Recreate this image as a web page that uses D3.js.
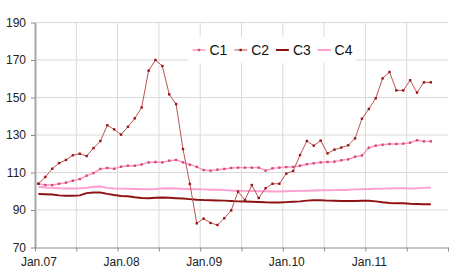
<!DOCTYPE html>
<html>
<head>
<meta charset="utf-8">
<script src="https://cdn.jsdelivr.net/npm/d3@7"></script>
<style>
  body { margin: 0; background: #fff; }
  svg { display: block; font-family: "Liberation Sans", Arial, sans-serif; }
</style>
</head>
<body>
<script>
// monthly values, Jan.07 .. Oct.11 (axis runs to Dec.11)
let c1 = [104.0, 103.3, 103.3, 104.0, 104.6, 105.6, 106.5, 108.3, 109.7, 111.9, 112.4, 112.0,
          113.1, 113.6, 113.6, 114.3, 115.4, 115.6, 115.4, 116.3, 116.7, 115.4, 114.2, 113.0,
          111.3, 111.0, 111.5, 111.9, 112.4, 112.6, 112.6, 112.6, 112.6, 111.0, 112.2, 112.6,
          112.9, 113.0, 113.6, 114.4, 114.9, 115.4, 115.6, 115.8, 116.5, 117.0, 118.4, 119.1,
          123.2, 124.3, 124.8, 125.2, 125.2, 125.4, 125.9, 127.2, 126.6, 126.6];
let c2 = [104.0, 107.6, 112.0, 115.0, 116.7, 119.2, 120.0, 118.8, 123.0, 126.8, 135.2, 133.0,
          130.2, 134.4, 138.9, 144.7, 164.3, 170.0, 166.8, 151.7, 146.5, 122.5, 103.9, 82.9,
          85.4, 83.1, 82.0, 85.6, 89.8, 99.8, 95.3, 103.3, 96.4, 101.6, 104.0, 104.0,
          109.4, 110.8, 119.3, 126.8, 124.3, 127.0, 120.2, 122.2, 123.3, 124.5, 128.2, 138.7,
          143.9, 149.6, 160.2, 163.6, 153.8, 153.8, 159.2, 152.6, 158.1, 158.1];
let c3 = [98.5, 98.4, 98.3, 97.8, 97.6, 97.6, 97.8, 99.0, 99.3, 99.3, 98.6, 98.0,
          97.5, 97.3, 96.8, 96.4, 96.3, 96.5, 96.7, 96.5, 96.3, 96.1, 95.8, 95.5,
          95.3, 95.2, 95.1, 95.0, 94.8, 94.6, 94.5, 94.4, 94.3, 94.1, 94.0, 94.0,
          94.2, 94.4, 94.6, 95.0, 95.2, 95.2, 95.0, 94.9, 94.8, 94.8, 94.8, 94.9,
          94.9, 94.6, 94.1, 93.7, 93.6, 93.6, 93.3, 93.2, 93.1, 93.1];
let c4 = [102.4, 102.0, 101.8, 101.6, 101.5, 101.5, 101.6, 101.9, 102.4, 102.5, 101.8, 101.5,
          101.4, 101.3, 101.2, 101.1, 101.1, 101.2, 101.5, 101.6, 101.5, 101.3, 101.2, 101.1,
          101.0, 100.8, 100.8, 100.6, 100.4, 100.3, 100.2, 100.1, 100.0, 100.0, 99.9, 99.9,
          100.0, 100.1, 100.2, 100.3, 100.4, 100.5, 100.5, 100.6, 100.7, 100.8, 101.0, 101.1,
          101.2, 101.3, 101.4, 101.5, 101.6, 101.6, 101.5, 101.6, 101.8, 102.0];

let monthCount = 60;
let tickLabels = ["Jan.07", "Jan.08", "Jan.09", "Jan.10", "Jan.11"];
let yTicks = [70, 90, 110, 130, 150, 170, 190];
let seriesNames = ["C1", "C2", "C3", "C4"];

let width = 450, height = 279;
let plotLeft = 35, plotRight = 448, plotTop = 22.5, plotBottom = 247.5;

let svg = d3.select("body").append("svg")
    .attr("width", width)
    .attr("height", height);

svg.append("rect").attr("width", width).attr("height", height).attr("fill", "#fff");

let x = d3.scaleLinear().domain([0, monthCount]).range([plotLeft, plotRight]);
let y = d3.scaleLinear().domain([70, 190]).range([plotBottom, plotTop]);

// grid
let sixMonths = d3.range(6, monthCount, 6);
svg.append("g").selectAll("line")
    .data(sixMonths)
    .enter().append("line")
    .attr("x1", d => x(d)).attr("x2", d => x(d))
    .attr("y1", plotTop).attr("y2", plotBottom)
    .attr("stroke", "#dadada").attr("stroke-width", 1);

svg.append("g").selectAll("line")
    .data(yTicks.slice(1))
    .enter().append("line")
    .attr("x1", plotLeft).attr("x2", plotRight)
    .attr("y1", d => y(d)).attr("y2", d => y(d))
    .attr("stroke", "#dadada").attr("stroke-width", 1);

// axes
let yAxis = svg.append("g")
    .attr("transform", `translate(${plotLeft},0)`)
    .call(d3.axisLeft(y).tickValues(yTicks).tickSize(4).tickPadding(5).tickSizeOuter(0));
yAxis.select(".domain").attr("stroke", "#a6a6a6").attr("stroke-width", 2);

let xTicks = svg.append("g")
    .attr("transform", `translate(0,${plotBottom})`)
    .call(d3.axisBottom(x).tickValues(d3.range(0, monthCount + 1, 6)).tickSize(4).tickSizeOuter(0).tickFormat(""));
xTicks.select(".domain").attr("stroke", "#8c8c8c");

let xLabels = svg.append("g")
    .attr("transform", `translate(0,${plotBottom})`)
    .call(d3.axisBottom(x).tickValues(tickLabels.map((t, i) => i * 12 + 0.5)).tickSize(0).tickPadding(10)
        .tickFormat((d, i) => tickLabels[i]));
xLabels.select(".domain").remove();

svg.selectAll(".tick line").attr("stroke", "#8c8c8c");
svg.selectAll(".tick text").attr("font-size", 12).attr("fill", "#222")
    .attr("font-family", "'Liberation Sans', Arial, sans-serif");

// series
let line = d3.line().x((d, i) => x(i + 0.5)).y(d => y(d));

let styles = {
    C1: { data: c1, stroke: "#ff8fc4", width: 1.4, marker: "#d24a78" },
    C2: { data: c2, stroke: "#bb5555", width: 1, marker: "#9c1515" },
    C3: { data: c3, stroke: "#8e1212", width: 2, marker: null },
    C4: { data: c4, stroke: "#ff9fd0", width: 2, marker: null }
};

["C4", "C3", "C1", "C2"].forEach(name => {
    let s = styles[name];
    svg.append("path")
        .datum(s.data)
        .attr("d", line)
        .attr("fill", "none")
        .attr("stroke", s.stroke)
        .attr("stroke-width", s.width)
        .attr("stroke-linejoin", "round");
    if (s.marker) {
        svg.append("g").selectAll("rect")
            .data(s.data)
            .enter().append("rect")
            .attr("x", (d, i) => x(i + 0.5) - 1.2)
            .attr("y", d => y(d) - 1.2)
            .attr("width", 2.4).attr("height", 2.4)
            .attr("fill", s.marker);
    }
});

// legend
let legend = svg.append("g");
legend.append("rect")
    .attr("x", 188).attr("y", 37).attr("width", 168).attr("height", 26)
    .attr("fill", "#fff");

let item = legend.selectAll("g.item")
    .data(seriesNames)
    .enter().append("g")
    .attr("transform", (d, i) => `translate(${192.5 + i * 41.7},50)`);

item.append("line")
    .attr("x1", 0).attr("x2", 13)
    .attr("stroke", d => styles[d].stroke)
    .attr("stroke-width", d => styles[d].width);
item.filter(d => styles[d].marker)
    .append("rect")
    .attr("x", 5.3).attr("y", -1.2).attr("width", 2.4).attr("height", 2.4)
    .attr("fill", d => styles[d].marker);
item.append("text")
    .attr("x", 17)
    .attr("dy", "0.36em")
    .attr("font-size", 14)
    .attr("fill", "#111")
    .text(d => d);
</script>
</body>
</html>
